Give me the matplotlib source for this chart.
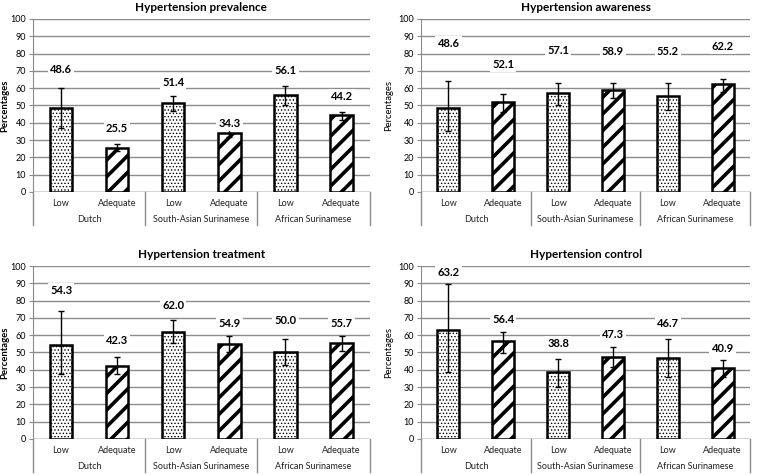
import matplotlib.pyplot as plt
import matplotlib.transforms as mtransforms
import numpy as np

plt.rcParams['font.family'] = ['Lato', 'DejaVu Sans']

groups = ['Dutch', 'South-Asian Surinamese', 'African Surinamese']
levels = ['Low', 'Adequate']
titles = ['Hypertension prevalence', 'Hypertension awareness',
          'Hypertension treatment', 'Hypertension control']

prevalence = [48.6, 25.5, 51.4, 34.3, 56.1, 44.2]
prev_lo = [37, 23.5, 47, 32, 50.5, 41.5]
prev_hi = [60, 27.5, 55.5, 36.5, 61.5, 46.5]

awareness = [48.6, 52.1, 57.1, 58.9, 55.2, 62.2]
aware_lo = [35, 46, 50.5, 54.5, 47.5, 58]
aware_hi = [64, 56.5, 63, 63, 63, 65.5]

treatment = [54.3, 42.3, 62.0, 54.9, 50.0, 55.7]
treat_lo = [37.5, 37.5, 55.5, 50, 43, 51]
treat_hi = [74, 47.5, 69, 59.5, 57.5, 59.5]

control = [63.2, 56.4, 38.8, 47.3, 46.7, 40.9]
ctrl_lo = [38.5, 49.5, 30, 41.5, 36, 36]
ctrl_hi = [89.5, 62, 46.5, 53, 58, 45.5]

# heights where the value labels sit in the original
prev_lab_y = [71, 36.5, 63, 39.5, 70, 55]
aware_lab_y = [86, 73.5, 82, 81, 81, 84]
treat_lab_y = [86, 57, 77, 66.5, 68.5, 66.5]
ctrl_lab_y = [96, 69, 55, 60.5, 67, 52.5]

panels = [
    (prevalence, prev_lo, prev_hi, prev_lab_y),
    (awareness, aware_lo, aware_hi, aware_lab_y),
    (treatment, treat_lo, treat_hi, treat_lab_y),
    (control, ctrl_lo, ctrl_hi, ctrl_lab_y),
]

fig = plt.figure(figsize=(7.6, 4.75), dpi=100)
boxes = [
    [0.0434, 0.596, 0.443, 0.364],
    [0.554, 0.596, 0.433, 0.364],
    [0.0434, 0.076, 0.443, 0.364],
    [0.554, 0.076, 0.433, 0.364],
]
ylab_x = [-0.07, -0.085, -0.07, -0.085]
grid_col = '#8c8c8c'

for i, (vals, lo, hi, laby) in enumerate(panels):
    ax = fig.add_axes(boxes[i])
    x = np.arange(6)
    vals = np.array(vals)
    yerr = [vals - np.array(lo), np.array(hi) - vals]
    for j in range(6):
        hatch = '.....' if j % 2 == 0 else '//'
        b = ax.bar(x[j], vals[j], width=0.4, color='white', edgecolor='black',
                   linewidth=1.8, hatch=hatch, zorder=3)
        for p in b:
            if hasattr(p, 'set_hatch_linewidth'):
                p.set_hatch_linewidth(0.6 if j % 2 == 0 else 2.6)
    ax.errorbar(x, vals, yerr=yerr, fmt='none', ecolor='black', elinewidth=1,
                capsize=2.5, capthick=1, zorder=4)
    for j in range(6):
        ax.text(x[j], laby[j], f'{vals[j]:.1f}', ha='center', va='center',
                fontsize=8, fontweight='bold', zorder=5,
                bbox=dict(facecolor='white', edgecolor='none', pad=1.5))
    ax.set_xlim(-0.5, 5.5)
    ax.set_ylim(0, 100)
    ax.set_yticks(np.arange(0, 101, 10))
    ax.tick_params(axis='y', labelsize=6.5, length=3, pad=2, color=grid_col)
    ax.yaxis.grid(True, color=grid_col, linewidth=1)
    ax.set_axisbelow(True)
    ax.set_xticks([])
    for s in ['top', 'right', 'bottom']:
        ax.spines[s].set_visible(False)
    ax.spines['left'].set_color(grid_col)
    ax.axhline(0, color=grid_col, linewidth=1, zorder=2)
    ax.set_title(titles[i], fontsize=8.5, fontweight='bold', pad=6)
    ax.set_ylabel('Percentages', fontsize=6.8,
                  fontweight='bold' if i % 2 == 0 else 'normal')
    ax.yaxis.set_label_coords(ylab_x[i], 0.5)

    trans = mtransforms.blended_transform_factory(ax.transData, ax.transAxes)
    for k in range(6):
        ax.text(x[k], -0.065, levels[k % 2], transform=trans, ha='center',
                va='center', fontsize=6.5, color='#222222')
    for g, name in enumerate(groups):
        ax.text(2 * g + 0.5, -0.16, name, transform=trans, ha='center',
                va='center', fontsize=6.5, color='#222222')
    for xs in [-0.5, 1.5, 3.5, 5.5]:
        ax.plot([xs, xs], [0, -0.19], transform=trans, color=grid_col,
                linewidth=1, clip_on=False)

fig.savefig('out.png', dpi=100)
